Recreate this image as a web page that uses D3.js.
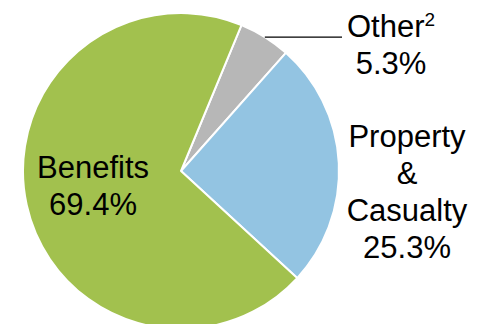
<!DOCTYPE html>
<html>
<head>
<meta charset="utf-8">
<script src="https://cdn.jsdelivr.net/npm/d3@7"></script>
<style>
  html, body { margin: 0; padding: 0; background: #fff; }
  svg { display: block; }
</style>
</head>
<body>
<div id="chart"></div>
<script>
// slices, clockwise from the top-right
const categories = ['Other', 'Property & Casualty', 'Benefits'];
const values = [5.3, 25.3, 69.4];
const labelLines = [['Other'], ['Property', '&', 'Casualty'], ['Benefits']];
const valueLabels = ['5.3%', '25.3%', '69.4%'];
const colors = ['#b7b7b7', '#93c4e2', '#a2c14e'];

const width = 482;
const height = 324;
const cx = 181;
const cy = 171;
const radius = 158;
const fontSize = 31;
const lineH = 37;

const svg = d3.select('#chart').append('svg')
  .attr('width', width)
  .attr('height', height);

const g = svg.append('g')
  .attr('transform', `translate(${cx},${cy})`);

const pie = d3.pie()
  .sort(null)
  .startAngle(22.5 * Math.PI / 180)
  .endAngle(22.5 * Math.PI / 180 + 2 * Math.PI)
  .value((d) => d);

const arc = d3.arc()
  .innerRadius(0)
  .outerRadius(radius);

const arcs = pie(values);

g.selectAll('.slice')
  .data(arcs)
  .enter().append('path')
  .attr('class', 'slice')
  .attr('d', arc)
  .style('fill', (d, i) => colors[i])
  .style('stroke', '#fff')
  .style('stroke-width', 2)
  .style('stroke-linejoin', 'round');

// label anchor spots (page coords), kept apart from the data
const labelPos = [
  { x: 391, y: 37 },
  { x: 407, y: 147 },
  { x: 93, y: 178 },
];

const labels = svg.selectAll('.label')
  .data(arcs)
  .enter().append('text')
  .attr('class', 'label')
  .attr('text-anchor', 'middle')
  .attr('font-family', 'Arial, "Liberation Sans", sans-serif')
  .attr('font-size', fontSize + 'px')
  .attr('fill', '#000');

labels.each(function (d, i) {
  const t = d3.select(this);
  const lines = labelLines[i].concat([valueLabels[i]]);
  lines.forEach((line, j) => {
    const ts = t.append('tspan')
      .attr('x', labelPos[i].x)
      .attr('y', labelPos[i].y + j * lineH)
      .text(line);
    if (i === 0 && j === 0) {
      // footnote marker
      t.append('tspan')
        .attr('font-size', '19px')
        .attr('dy', -11)
        .text('2');
    }
  });
});

// leader line for the small slice
const mid = (arcs[0].startAngle + arcs[0].endAngle) / 2;
const lx = cx + Math.sin(mid) * radius;
const ly = cy - Math.cos(mid) * radius;
svg.append('line')
  .attr('x1', lx)
  .attr('y1', ly)
  .attr('x2', 342)
  .attr('y2', ly)
  .style('stroke', '#000')
  .style('stroke-width', 1.3);
</script>
</body>
</html>
